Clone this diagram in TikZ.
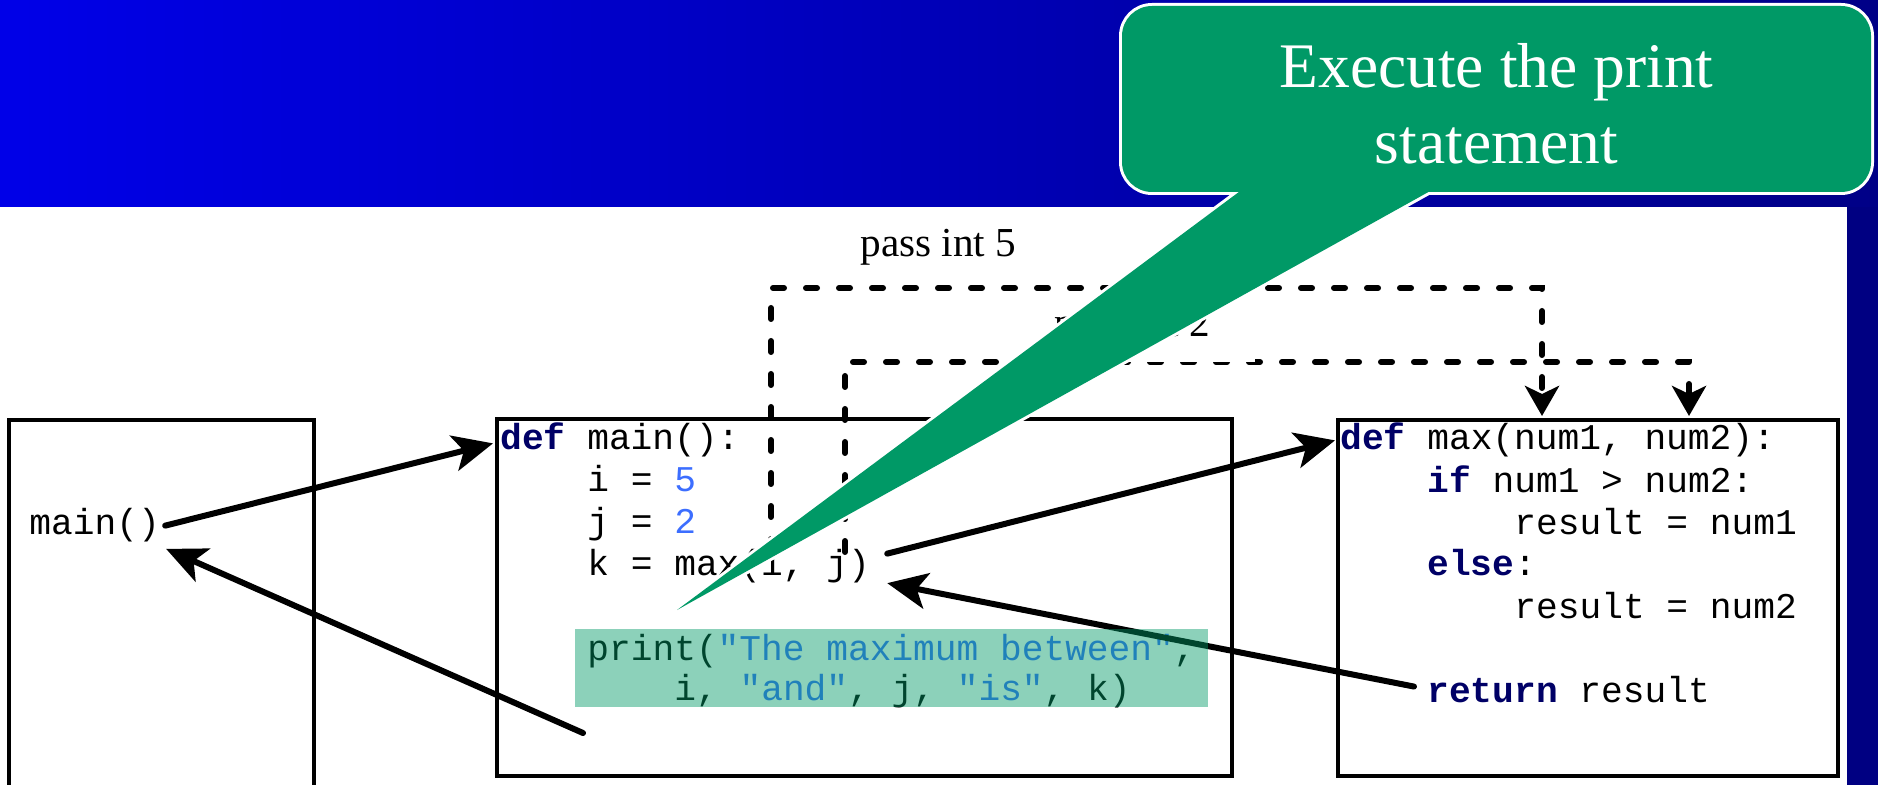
\documentclass[tikz,border=0pt]{standalone}
\usepackage{fontspec}
\setmainfont{Liberation Serif}
\setmonofont{Liberation Mono}
\usetikzlibrary{arrows.meta}

\definecolor{bandL}{RGB}{0,0,232}
\definecolor{bandM}{RGB}{0,0,205}
\definecolor{bandR}{RGB}{0,0,135}
\definecolor{stripblue}{RGB}{0,0,130}
\definecolor{notegreen}{RGB}{0,153,102}
\definecolor{kwblue}{RGB}{0,0,102}
\definecolor{litblue}{RGB}{60,110,255}

\newcommand\kwd[1]{{\bfseries\color{kwblue}#1}}
\newcommand\litv[1]{{\color{litblue}#1}}

\begin{document}
\begin{tikzpicture}[x=0.5pt,y=-0.5pt,
  frame/.style={draw, line width=2pt, inner sep=0pt, anchor=north west},
  code/.style={font=\ttfamily\fontsize{18.1pt}{21pt}\selectfont\frenchspacing,
               inner sep=0pt, anchor=base west},
  lbl/.style={font=\fontsize{20.6pt}{24pt}\selectfont, inner sep=0pt, anchor=base west},
  flow/.style={line width=3pt, line cap=round,
               -{Stealth[length=20pt,width=18pt,inset=5pt]}},
  pass/.style={line width=3pt, line cap=round, dash pattern=on 5.5pt off 11pt,
               -{Stealth[length=15pt,width=17pt,inset=4pt]}},
  notetext/.style={font=\fontsize{31.75pt}{38pt}\selectfont, text=white,
                   align=center, inner sep=0pt},
  hilite/.style={fill=notegreen, fill opacity=0.45, inner sep=0pt, anchor=north west}
]
\useasboundingbox (0,0) rectangle (1878,785);
\clip (0,0) rectangle (1878,785);

% slide backdrop
\fill[white] (0,0) rectangle (1878,785);
\shade[left color=bandL, middle color=bandM, right color=bandR] (0,0) rectangle (1878,207);
\fill[stripblue] (1847,207) rectangle (1878,785);

% activation frames
\node[frame, minimum width=152.5pt, minimum height=200pt] (callerbox) at (7,418) {};
\node[frame, minimum width=367.5pt, minimum height=178.5pt] (mainbox) at (495,417) {};
\node[frame, minimum width=250pt, minimum height=178pt] (maxbox) at (1336,418) {};

% code
\node[code] (callmain) at (29,535) {main()};

\node[code] (defmain) at (500,450) {\kwd{def} main():};
\node[code] (seti) at (587,492) {i = \litv{5}};
\node[code] (setj) at (587,533) {j = \litv{2}};
\node[code] (callmax) at (587,575) {k = max(i, j)};
\node[code] (print1) at (587,660) {print(\litv{"The maximum between"},};
\node[code] (print2) at (674,700) {i, \litv{"and"}, j, \litv{"is"}, k)};

\node[code] (defmax) at (1340,450) {\kwd{def} max(num1, num2):};
\node[code] (ifline) at (1427,492.5) {\kwd{if} num1 > num2:};
\node[code] (res1) at (1514,535) {result = num1};
\node[code] (elseline) at (1427,575) {\kwd{else}:};
\node[code] (res2) at (1514,618) {result = num2};
\node[code] (retline) at (1427,702) {\kwd{return} result};

% argument passing
\coordinate (argi) at (771,550);
\coordinate (argj) at (845,552);
\coordinate (pnum1) at (1542,416);
\coordinate (pnum2) at (1689,416);
\draw[pass] (argi) -- ++(0,-262) -| (pnum1);
\draw[pass] (argj) -- ++(0,-190) -| (pnum2);
\node[lbl] (pass5) at (860,257) {pass int 5};
\node[lbl, fill=white, inner xsep=22.5pt, inner ysep=8pt] (pass2) at (1009,337) {pass int 2};

% control flow
\coordinate (afterprint) at (583,733);
\draw[flow] ([xshift=2.5pt]callmain.east) -- ([xshift=-3.5pt,yshift=-1.5pt]defmain.west);
\draw[flow] (afterprint) -- ([xshift=3pt,yshift=-3pt]callmain.south east);
\draw[flow] ([xshift=8.5pt,yshift=6pt]callmax.east) -- ([xshift=-2.5pt]defmax.west);
\draw[flow] ([xshift=-6.5pt,yshift=1.25pt]retline.west) -- ([xshift=8.5pt,yshift=-8.75pt]callmax.east);

% callout
\coordinate (tip) at (677,610);
\draw[white, line width=3pt, rounded corners=15pt] (1122,6) rectangle (1871,192);
\draw[white, line width=3pt] (1255,180) -- (tip) -- (1450,180) -- cycle;
\fill[notegreen, rounded corners=15pt] (1122,6) rectangle (1871,192);
\fill[notegreen] (1255,180) -- (tip) -- (1450,180) -- cycle;
\node[notetext] (note) at (1496.5,103.5) {Execute the print\\statement};

% current statement
\node[hilite, minimum width=316.5pt, minimum height=39pt] (printhl) at (575,629) {};
\end{tikzpicture}
\end{document}
